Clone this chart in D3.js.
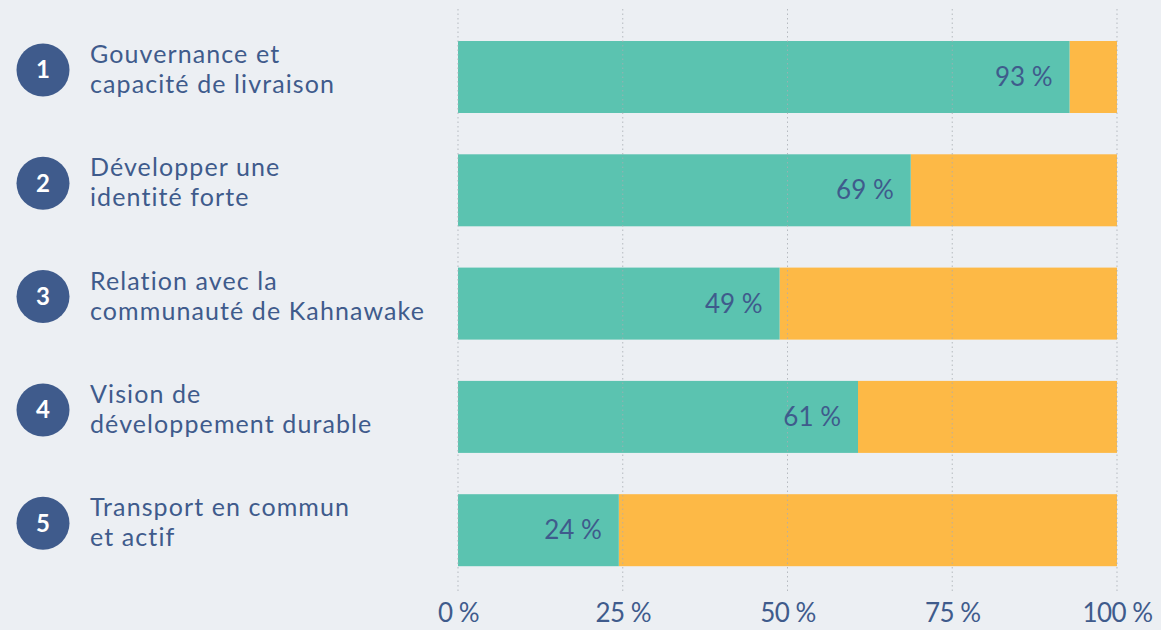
<!DOCTYPE html>
<html>
<head>
<meta charset="utf-8">
<script src="https://cdn.jsdelivr.net/npm/d3@7"></script>
<style>
  body { margin: 0; background: #eceff3; }
  svg { display: block; font-family: Lato, "Noto Sans", sans-serif; }
</style>
</head>
<body>
<svg width="1161" height="630"></svg>
<script>
// Data
const numbers = ["1", "2", "3", "4", "5"];
const labels = [
    ["Gouvernance et", "capacité de livraison"],
    ["Développer une", "identité forte"],
    ["Relation avec la", "communauté de Kahnawake"],
    ["Vision de", "développement durable"],
    ["Transport en commun", "et actif"]
];
const values = [92.8, 68.7, 48.8, 60.7, 24.4];
const tickValues = [0, 25, 50, 75, 100];

const textColor = "#3f5b8c";
const svg = d3.select("svg");

// Scales
const x = d3.scaleLinear().domain([0, 100]).range([458, 1117]);
const y = d3.scaleBand().domain(numbers).range([-0.3, 607.5]).padding(0.3645);

// Bars (orange rest first, then teal)
svg.selectAll(".rest")
    .data(values)
    .enter().append("rect")
    .attr("class", "rest")
    .attr("x", function(d) { return x(d); })
    .attr("y", function(d, i) { return y(numbers[i]); })
    .attr("width", function(d) { return x(100) - x(d); })
    .attr("height", y.bandwidth())
    .style("fill", "#fdb946");

svg.selectAll(".bar")
    .data(values)
    .enter().append("rect")
    .attr("class", "bar")
    .attr("x", x(0))
    .attr("y", function(d, i) { return y(numbers[i]); })
    .attr("width", function(d) { return x(d) - x(0); })
    .attr("height", y.bandwidth())
    .style("fill", "#5bc3b0");

// Dotted gridlines on top
svg.selectAll(".grid")
    .data(tickValues)
    .enter().append("line")
    .attr("class", "grid")
    .attr("x1", function(d) { return x(d); })
    .attr("x2", function(d) { return x(d); })
    .attr("y1", 9)
    .attr("y2", 592)
    .style("stroke", "#a9adb3")
    .style("stroke-opacity", 0.8)
    .style("stroke-width", 1)
    .style("stroke-dasharray", "1.5,3");

// Value labels
svg.selectAll(".value")
    .data(values)
    .enter().append("text")
    .attr("class", "value")
    .attr("x", function(d) { return x(d) - 17; })
    .attr("y", function(d, i) { return y(numbers[i]) + y.bandwidth() / 2 + 9; })
    .attr("text-anchor", "end")
    .style("font-size", "26px")
    .style("fill", textColor)
    .text(function(d) { return Math.round(d) + " %"; });

// Number circles
const badge = svg.selectAll(".badge")
    .data(numbers)
    .enter().append("g")
    .attr("class", "badge")
    .attr("transform", function(d) { return "translate(43," + (y(d) + y.bandwidth() / 2 - 7) + ")"; });

badge.append("circle")
    .attr("r", 26.5)
    .style("fill", "#3f5b8c");

badge.append("text")
    .attr("text-anchor", "middle")
    .attr("y", 8.5)
    .style("font-size", "24px")
    .style("font-weight", "bold")
    .style("fill", "#ffffff")
    .text(function(d) { return d; });

// Category labels (two lines)
const label = svg.selectAll(".label")
    .data(labels)
    .enter().append("text")
    .attr("class", "label")
    .attr("x", 90)
    .attr("y", function(d, i) { return y(numbers[i]) + y.bandwidth() / 2 - 14; })
    .style("font-size", "25px")
    .style("letter-spacing", "1.1px")
    .style("fill", textColor);

label.selectAll("tspan")
    .data(function(d) { return d; })
    .enter().append("tspan")
    .attr("x", 90)
    .attr("dy", function(d, i) { return i === 0 ? 0 : 30; })
    .text(function(d) { return d; });

// Bottom axis
const axis = svg.append("g")
    .attr("transform", "translate(0,598)")
    .call(d3.axisBottom(x).tickValues(tickValues).tickSize(0).tickFormat(function(d) { return d + " %"; }));

axis.select(".domain").remove();
axis.selectAll("text")
    .attr("dy", 0)
    .attr("y", 24)
    .style("font-family", "Lato, 'Noto Sans', sans-serif")
    .style("font-size", "26px")
    .style("letter-spacing", "-0.5px")
    .style("fill", textColor);
</script>
</body>
</html>
